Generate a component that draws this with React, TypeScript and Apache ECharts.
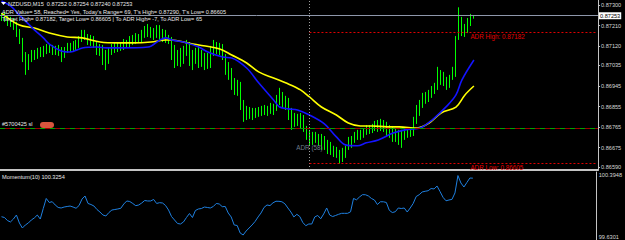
import React, { useEffect, useRef } from "react";
import * as echarts from "echarts";

// Prices are in points (1 point = 0.00001)
const barOpen = [
  87248, 87256, 87239, 87226, 87234, 87208, 87182, 87147, 87077, 87024,
  87068, 87085, 87077, 87094, 87085, 87103, 87116, 87103, 87112, 87099,
  87107, 87081, 87103, 87121, 87112, 87129, 87121, 87147, 87177, 87164,
  87138, 87156, 87125, 87103, 87116, 87068, 87050, 87094, 87112, 87103,
  87121, 87112, 87138, 87125, 87147, 87138, 87156, 87147, 87169, 87191,
  87173, 87186, 87169, 87191, 87164, 87177, 87156, 87147, 87103, 87050,
  87081, 87059, 87094, 87125, 87081, 87050, 87085, 87068, 87050, 87081,
  87033, 87103, 87129, 87112, 87121, 87081, 87024, 87007, 86963, 86937,
  86950, 86862, 86818, 86840, 86814, 86831, 86823, 86840, 86831, 86845,
  86836, 86853, 86845, 86884, 86915, 86875, 86884, 86831, 86774, 86805,
  86792, 86814, 86761, 86731, 86709, 86726, 86718, 86700, 86718, 86687,
  86665, 86674, 86652, 86665, 86630, 86656, 86674, 86700, 86709, 86731,
  86722, 86739, 86748, 86761, 86753, 86766, 86774, 86761, 86779, 86766,
  86744, 86761, 86726, 86739, 86718, 86744, 86726, 86748, 86735, 86788,
  86840, 86867, 86893, 86884, 86906, 86928, 86937, 86998, 86980, 86963,
  86945, 86980, 87007, 87156, 87234, 87182, 87199, 87226, 87252,
];
const barClose = [
  87256, 87239, 87226, 87234, 87208, 87182, 87147, 87077, 87024, 87068,
  87085, 87077, 87094, 87085, 87103, 87116, 87103, 87112, 87099, 87107,
  87081, 87103, 87121, 87112, 87129, 87121, 87147, 87177, 87164, 87138,
  87156, 87125, 87103, 87116, 87068, 87050, 87094, 87112, 87103, 87121,
  87112, 87138, 87125, 87147, 87138, 87156, 87147, 87169, 87191, 87173,
  87186, 87169, 87191, 87164, 87177, 87156, 87147, 87103, 87050, 87081,
  87059, 87094, 87125, 87081, 87050, 87085, 87068, 87050, 87081, 87033,
  87103, 87129, 87112, 87121, 87081, 87024, 87007, 86963, 86937, 86950,
  86862, 86818, 86840, 86814, 86831, 86823, 86840, 86831, 86845, 86836,
  86853, 86845, 86884, 86915, 86875, 86884, 86831, 86774, 86805, 86792,
  86814, 86761, 86731, 86709, 86726, 86718, 86700, 86718, 86687, 86665,
  86674, 86652, 86665, 86630, 86656, 86674, 86700, 86709, 86731, 86722,
  86739, 86748, 86761, 86753, 86766, 86774, 86761, 86779, 86766, 86744,
  86761, 86726, 86739, 86718, 86744, 86726, 86748, 86735, 86788, 86840,
  86867, 86893, 86884, 86906, 86928, 86937, 86998, 86980, 86963, 86945,
  86980, 87007, 87156, 87234, 87182, 87199, 87226, 87252, 87253,
];
const barLow = [
  87230, 87226, 87208, 87204, 87191, 87160, 87129, 87050, 86994, 87015,
  87050, 87059, 87064, 87072, 87072, 87085, 87090, 87081, 87081, 87077,
  87050, 87068, 87090, 87094, 87099, 87103, 87112, 87138, 87147, 87125,
  87121, 87112, 87081, 87077, 87037, 87015, 87042, 87081, 87090, 87094,
  87099, 87103, 87112, 87116, 87125, 87129, 87134, 87138, 87156, 87160,
  87156, 87147, 87156, 87147, 87138, 87134, 87129, 87059, 87024, 87033,
  87029, 87042, 87077, 87033, 87015, 87042, 87024, 87029, 87015, 87020,
  87024, 87077, 87085, 87081, 87059, 86994, 86972, 86928, 86906, 86902,
  86840, 86788, 86796, 86801, 86796, 86805, 86810, 86814, 86818, 86814,
  86823, 86818, 86836, 86862, 86849, 86840, 86796, 86753, 86766, 86770,
  86761, 86744, 86709, 86683, 86687, 86696, 86683, 86665, 86665, 86647,
  86643, 86634, 86630, 86605, 86612, 86630, 86665, 86674, 86696, 86709,
  86709, 86718, 86731, 86735, 86739, 86748, 86744, 86748, 86744, 86726,
  86718, 86700, 86700, 86687, 86674, 86709, 86718, 86722, 86726, 86779,
  86814, 86849, 86867, 86875, 86893, 86910, 86928, 86950, 86945, 86928,
  86937, 86972, 86985, 87147, 87164, 87160, 87177, 87208, 87240,
];
const barHigh = [
  87265, 87269, 87252, 87248, 87243, 87226, 87195, 87156, 87094, 87085,
  87103, 87103, 87112, 87116, 87121, 87129, 87125, 87125, 87121, 87125,
  87116, 87116, 87134, 87134, 87142, 87147, 87164, 87191, 87191, 87173,
  87169, 87164, 87138, 87129, 87125, 87103, 87112, 87129, 87134, 87138,
  87138, 87151, 87147, 87164, 87169, 87177, 87173, 87191, 87208, 87217,
  87204, 87199, 87212, 87212, 87195, 87191, 87169, 87160, 87125, 87103,
  87112, 87121, 87147, 87138, 87103, 87112, 87121, 87103, 87090, 87090,
  87121, 87147, 87138, 87134, 87129, 87085, 87050, 87024, 86980, 86972,
  86963, 86884, 86858, 86853, 86849, 86849, 86853, 86858, 86862, 86858,
  86871, 86867, 86906, 86937, 86919, 86902, 86893, 86849, 86827, 86823,
  86827, 86818, 86770, 86753, 86744, 86744, 86735, 86735, 86726, 86709,
  86700, 86683, 86678, 86665, 86674, 86683, 86722, 86726, 86744, 86753,
  86753, 86761, 86774, 86774, 86779, 86792, 86796, 86801, 86796, 86788,
  86774, 86770, 86757, 86753, 86753, 86757, 86761, 86761, 86810, 86862,
  86884, 86915, 86919, 86928, 86945, 86959, 87029, 87015, 87007, 86985,
  86994, 87029, 87164, 87290, 87248, 87217, 87243, 87261, 87254,
];

// Moving averages read at selected bars: [bar index, price]
const maFast = [
  [0, 87318], [3, 87296], [6, 87256], [11, 87191], [14, 87156], [16, 87129],
  [20, 87099], [23, 87094], [27, 87112], [32, 87116], [35, 87112], [40, 87112],
  [49, 87116], [53, 87147], [55, 87156], [57, 87147], [62, 87134], [66, 87116],
  [69, 87094], [74, 87072], [77, 87068], [82, 87024], [86, 86959], [91, 86884],
  [93, 86853], [96, 86845], [99, 86840], [103, 86818], [108, 86779], [112, 86722],
  [115, 86687], [119, 86683], [122, 86696], [126, 86709], [131, 86739], [135, 86753],
  [140, 86761], [144, 86796], [149, 86858], [152, 86906], [154, 86972], [158, 87059],
];
const maSlow = [
  [0, 87265], [6, 87212], [11, 87199], [16, 87177], [22, 87160], [27, 87156],
  [33, 87138], [39, 87134], [44, 87134], [50, 87138], [55, 87147], [57, 87147],
  [62, 87134], [66, 87125], [73, 87107], [77, 87081], [82, 87046], [86, 87007],
  [91, 86980], [95, 86959], [100, 86928], [103, 86897], [107, 86853], [112, 86818],
  [116, 86783], [120, 86770], [124, 86770], [129, 86766], [133, 86766], [139, 86761],
  [143, 86783], [147, 86827], [152, 86853], [155, 86906], [158, 86945],
];

const momentum = [
  99.892, 99.883, 99.849, 99.833, 99.866, 99.911, 99.821, 99.765, 99.799, 99.821,
  99.855, 99.878, 99.911, 99.866, 99.984, 100.097, 100.052, 100.061, 100.024, 99.996,
  99.990, 100.001, 100.007, 100.012, 100.001, 99.987, 100.018, 100.091, 100.125, 100.041,
  100.029, 100.012, 99.973, 99.945, 99.911, 99.900, 99.939, 99.967, 99.973, 99.979,
  99.987, 100.035, 100.069, 100.063, 100.041, 100.016, 100.024, 100.046, 100.074, 100.069,
  100.069, 100.086, 100.041, 100.050, 100.046, 100.018, 99.967, 99.894, 99.855, 99.816,
  99.810, 99.833, 99.883, 99.928, 99.883, 99.962, 99.979, 99.984, 100.001, 99.996,
  99.990, 100.007, 100.041, 100.035, 100.005, 100.007, 99.934, 99.889, 99.799, 99.793,
  99.709, 99.686, 99.731, 99.765, 99.799, 99.838, 99.889, 99.934, 99.996, 100.024,
  100.017, 100.048, 100.066, 100.065, 100.060, 100.037, 99.990, 99.945, 99.889, 99.919,
  99.894, 99.827, 99.791, 99.810, 99.810, 99.889, 99.906, 99.869, 99.923, 99.990,
  99.911, 99.894, 99.906, 99.919, 99.930, 99.930, 99.930, 99.947, 100.097, 100.082,
  100.114, 100.140, 100.139, 100.125, 100.097, 100.080, 100.029, 100.060, 100.060, 100.052,
  99.964, 99.939, 99.948, 99.990, 99.984, 99.990, 99.945, 99.990, 100.041, 100.119,
  100.139, 100.170, 100.178, 100.184, 100.209, 100.204, 100.237, 100.175, 100.110, 100.071,
  100.080, 100.087, 100.159, 100.355, 100.271, 100.226, 100.277, 100.327, 100.3254,
];

const priceTicks = [87300, 87210, 87120, 87035, 86945, 86855, 86765, 86675, 86590];
const priceMin = 86577;
const priceMax = 87322;
const momentumMax = 100.3948;
const momentumMin = 99.6301;
const bidPrice = 87253;
const adrHigh = 87182;
const adrLow = 86605;
const orderSL = 86762;
const adrTextPrice = 86676;
const daySeparatorBar = 103;
const labelBar = 157;
const slotCount = 200;

const headerLines = [
  "NZDUSD,M15  0.87252 0.87254 0.87240 0.87253",
  "ADR Value= 58, Reached= Yes, Today's Range= 69, T's High= 0.87290, T's Low= 0.86605",
  "Target High= 0.87182, Target Low= 0.86605 | To ADR High= -7, To ADR Low= 65",
];
const momentumTitle = "Momentum(10) 100.3254";
const orderLabel = "#5700425 sl";

const FONT = "'Liberation Sans', Arial, sans-serif";
const fmtPrice = (v: number) => (v / 1e5).toFixed(5);

export default function App() {
  const ref = useRef<HTMLDivElement>(null);

  useEffect(() => {
    const chart = echarts.init(ref.current!, null, { renderer: "svg" });
    const cats = Array.from({ length: slotCount }, (_, i) => String(i));
    const ohlc = barOpen.map((o, i) => [o, barClose[i], barLow[i], barHigh[i]]);
    const sep = String(daySeparatorBar);
    const lastSlot = String(slotCount - 1);
    const redDot = { color: "#e00000", width: 1, type: [2, 2] as any };
    const momLabel = {
      show: true, formatter: (v: number) => v.toFixed(4),
      color: "#d6d6d6", fontSize: 5.6, margin: 2, fontFamily: FONT,
    };

    const option: any = {
      animation: false,
      backgroundColor: "#000",
      textStyle: { fontFamily: FONT },
      grid: [
        { left: 0, right: 27, top: 0, height: 170 },
        { left: 0, right: 27, top: 172, bottom: 0 },
      ],
      xAxis: [
        {
          type: "category", gridIndex: 0, data: cats, boundaryGap: true,
          axisLine: { show: true, lineStyle: { color: "#c4c4c4", width: 2 } },
          axisTick: { show: false }, axisLabel: { show: false }, splitLine: { show: false },
        },
        {
          type: "category", gridIndex: 1, data: cats, boundaryGap: true, show: false,
        },
      ],
      yAxis: [
        {
          type: "value", gridIndex: 0, position: "right", min: priceMin, max: priceMax,
          splitLine: { show: false },
          axisLine: { show: true, lineStyle: { color: "#c4c4c4", width: 1 } },
          axisTick: { show: true, length: 2, lineStyle: { color: "#c4c4c4" }, customValues: priceTicks },
          axisLabel: {
            show: true, customValues: priceTicks, formatter: (v: number) => fmtPrice(v),
            color: "#d6d6d6", fontSize: 5.6, margin: 3, fontFamily: FONT,
          },
        },
        {
          type: "value", gridIndex: 1, position: "right", min: momentumMin, max: momentumMax,
          splitLine: { show: false },
          axisLine: { show: true, lineStyle: { color: "#c4c4c4", width: 1 } },
          axisTick: { show: false },
          axisLabel: { ...momLabel, customValues: [momentumMax], verticalAlign: "top" },
        },
        {
          type: "value", gridIndex: 1, position: "right", min: momentumMin, max: momentumMax,
          splitLine: { show: false },
          axisLine: { show: false },
          axisTick: { show: false },
          axisLabel: { ...momLabel, customValues: [momentumMin], verticalAlign: "bottom" },
        },
      ],
      series: [
        {
          type: "candlestick", xAxisIndex: 0, yAxisIndex: 0, data: ohlc, barWidth: 1,
          itemStyle: {
            color: "#00b400", color0: "#d4ffd4",
            borderColor: "#00ff00", borderColor0: "#00ff00", borderWidth: 1,
          },
          z: 2,
          markLine: {
            silent: true, symbol: ["none", "none"], animation: false,
            data: [
              {
                yAxis: bidPrice,
                lineStyle: { color: "#8e97aa", width: 1, type: "solid" },
                label: {
                  show: true, position: "end", distance: 1, formatter: fmtPrice(bidPrice),
                  color: "#000", backgroundColor: "#fff", padding: [1, 1, 0, 1],
                  fontSize: 5.6, fontFamily: FONT,
                },
              },
              { yAxis: orderSL, lineStyle: { color: "#00a000", width: 1, type: [5, 5] }, label: { show: false } },
              { yAxis: orderSL, lineStyle: { color: "#a00000", width: 1, type: [5, 5], dashOffset: 5 }, label: { show: false } },
              { xAxis: sep, lineStyle: { color: "#a0a0a0", width: 1, type: [1, 2] }, label: { show: false } },
              [
                { coord: [sep, adrHigh], lineStyle: redDot, label: { show: false } },
                { coord: [lastSlot, adrHigh] },
              ],
              [
                { coord: [sep, adrLow], lineStyle: redDot, label: { show: false } },
                { coord: [lastSlot, adrLow] },
              ],
            ],
          },
          markPoint: {
            symbol: "rect", symbolSize: 1, silent: true,
            itemStyle: { color: "rgba(0,0,0,0)" },
            data: [
              {
                coord: [String(labelBar), adrHigh],
                label: {
                  show: true, position: [0, 2], align: "left", verticalAlign: "top",
                  formatter: "ADR High: " + fmtPrice(adrHigh), color: "#e00000", fontSize: 6.3, fontFamily: FONT,
                },
              },
              {
                coord: [String(labelBar), adrLow],
                label: {
                  show: true, position: [0, 1], align: "left", verticalAlign: "top",
                  formatter: "ADR Low: " + fmtPrice(adrLow), color: "#e00000", fontSize: 6.3, fontFamily: FONT,
                },
              },
              {
                coord: [sep, adrTextPrice],
                label: {
                  show: true, position: "inside", align: "center", verticalAlign: "middle",
                  formatter: "ADR (58)", color: "#6e7c8c", fontSize: 6.3, fontFamily: FONT,
                },
              },
            ],
          },
        },
        {
          type: "line", xAxisIndex: 0, yAxisIndex: 0, data: maSlow, smooth: 0.35,
          showSymbol: false, lineStyle: { color: "#ffff00", width: 1.6 }, z: 3,
        },
        {
          type: "line", xAxisIndex: 0, yAxisIndex: 0, data: maFast, smooth: 0.35,
          showSymbol: false, lineStyle: { color: "#1414ff", width: 1.6 }, z: 3,
        },
        {
          type: "line", xAxisIndex: 1, yAxisIndex: 1, data: momentum,
          showSymbol: false, lineStyle: { color: "#1f80e0", width: 1 }, z: 3,
        },
      ],
      graphic: [
        { type: "polygon", shape: { points: [[1, 2], [6, 2], [3.5, 5]] }, style: { fill: "#ffffff" }, z: 10 },
        {
          type: "text", left: 8, top: 1, z: 10,
          style: { text: headerLines[0], fill: "#e8e8e8", font: `5.6px ${FONT}` },
        },
        {
          type: "text", left: 2, top: 8.5, z: 10,
          style: { text: headerLines[1], fill: "#e8e8e8", font: `5.6px ${FONT}` },
        },
        {
          type: "text", left: 2, top: 15.5, z: 10,
          style: { text: headerLines[2], fill: "#e8e8e8", font: `5.6px ${FONT}` },
        },
        {
          type: "text", left: 2, top: 120.5, z: 10,
          style: { text: orderLabel, fill: "#e8e8e8", font: `5.6px ${FONT}` },
        },
        {
          type: "rect", shape: { x: 40, y: 122, width: 14, height: 6, r: 3 },
          style: { fill: "#d8553e" }, z: 10,
        },
        {
          type: "text", left: 2, top: 174, z: 10,
          style: { text: momentumTitle, fill: "#e8e8e8", font: `5.6px ${FONT}` },
        },
      ],
    };

    chart.setOption(option);
    return () => chart.dispose();
  }, []);

  return (
    <div
      ref={ref}
      style={{ position: "fixed", left: 0, top: 0, width: 625, height: 240, background: "#000" }}
    />
  );
}
